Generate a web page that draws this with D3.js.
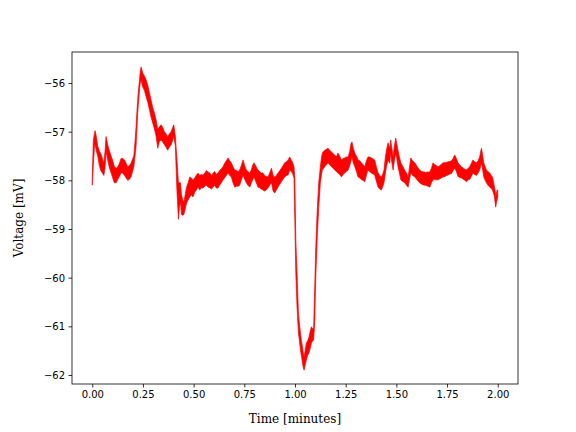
<!DOCTYPE html>
<html>
<head>
<meta charset="utf-8">
<script src="https://cdn.jsdelivr.net/npm/d3@7"></script>
<style>
  html, body { margin: 0; padding: 0; background: #fff; }
  svg { display: block; }
</style>
</head>
<body>
<div id="chart"></div>
<script>
// Sample times (minutes)
const times = [
0.000,0.005,0.010,0.014,0.020,0.027,0.035,0.042,0.050,0.057,0.063,0.068,0.076,0.085,0.093,0.101,0.109,0.118,0.126,0.134,
0.142,0.150,0.159,0.167,0.175,0.183,0.191,0.200,0.205,0.211,0.216,0.220,0.224,0.229,0.233,0.237,0.241,0.249,0.257,0.266,
0.274,0.282,0.290,0.298,0.307,0.315,0.323,0.331,0.340,0.348,0.356,0.364,0.372,0.380,0.389,0.396,0.402,0.410,0.414,0.418,
0.425,0.430,0.435,0.440,0.446,0.452,0.458,0.465,0.473,0.481,0.489,0.497,0.505,0.513,0.522,0.530,0.538,0.546,0.555,0.563,
0.571,0.580,0.588,0.596,0.604,0.612,0.620,0.628,0.637,0.645,0.653,0.661,0.670,0.678,0.686,0.694,0.703,0.711,0.719,0.727,
0.735,0.744,0.752,0.760,0.768,0.777,0.785,0.790,0.798,0.806,0.812,0.818,0.826,0.834,0.842,0.850,0.858,0.867,0.875,0.884,
0.892,0.900,0.908,0.916,0.925,0.933,0.941,0.949,0.958,0.966,0.974,0.981,0.987,0.995,0.999,1.004,1.010,1.017,1.022,1.027,
1.032,1.037,1.041,1.045,1.050,1.056,1.062,1.069,1.075,1.081,1.087,1.092,1.097,1.102,1.109,1.117,1.125,1.130,1.135,1.141,
1.147,1.155,1.163,1.171,1.180,1.188,1.196,1.204,1.212,1.220,1.229,1.237,1.245,1.254,1.262,1.270,1.276,1.281,1.288,1.295,
1.303,1.311,1.320,1.328,1.336,1.344,1.352,1.360,1.368,1.377,1.385,1.393,1.400,1.410,1.418,1.426,1.432,1.439,1.445,1.451,
1.459,1.467,1.472,1.478,1.484,1.490,1.497,1.502,1.508,1.515,1.522,1.530,1.541,1.550,1.558,1.564,1.571,1.580,1.591,1.600,
1.608,1.615,1.625,1.637,1.645,1.655,1.665,1.673,1.681,1.690,1.698,1.706,1.714,1.722,1.730,1.740,1.748,1.755,1.764,1.772,
1.780,1.788,1.796,1.804,1.812,1.821,1.830,1.838,1.846,1.854,1.862,1.870,1.878,1.886,1.895,1.903,1.911,1.916,1.920,1.926,
1.931,1.938,1.944,1.952,1.961,1.968,1.974,1.980,1.984,1.987,1.990,1.994,1.997,2.000
];
// Upper envelope of the noisy trace (mV)
const upper = [
-57.95,-57.20,-57.05,-56.98,-57.10,-57.30,-57.40,-57.45,-57.55,-57.65,-57.40,-57.10,-57.27,-57.40,-57.50,-57.60,-57.72,-57.75,-57.72,-57.65,
-57.55,-57.55,-57.58,-57.65,-57.72,-57.70,-57.65,-57.55,-57.50,-57.20,-56.90,-56.60,-56.35,-56.10,-55.94,-55.75,-55.67,-55.80,-55.85,-55.94,
-56.05,-56.20,-56.35,-56.50,-56.62,-56.76,-56.95,-56.90,-56.86,-56.92,-57.00,-57.05,-57.10,-57.05,-57.00,-56.92,-56.86,-57.10,-57.35,-57.60,
-58.05,-58.05,-58.05,-58.30,-58.40,-58.45,-58.30,-58.14,-58.05,-57.93,-57.95,-58.00,-57.95,-57.90,-57.85,-57.90,-57.88,-57.89,-57.85,-57.80,
-57.83,-57.85,-57.90,-57.85,-57.82,-57.88,-57.85,-57.80,-57.76,-57.72,-57.65,-57.60,-57.54,-57.60,-57.64,-57.72,-57.79,-57.80,-57.82,-57.79,
-57.70,-57.58,-57.70,-57.79,-57.82,-57.85,-57.78,-57.70,-57.64,-57.70,-57.75,-57.79,-57.82,-57.85,-57.85,-57.90,-57.92,-57.93,-57.85,-57.75,
-57.90,-57.93,-57.90,-57.85,-57.80,-57.75,-57.70,-57.64,-57.62,-57.58,-57.52,-57.58,-57.62,-57.72,-57.95,-59.23,-59.90,-60.73,-60.95,-61.14,
-61.30,-61.43,-61.55,-61.63,-61.50,-61.34,-61.30,-61.22,-61.10,-61.01,-61.05,-61.03,-60.25,-59.43,-58.67,-58.05,-57.72,-57.55,-57.44,-57.40,
-57.38,-57.36,-57.34,-57.38,-57.42,-57.45,-57.48,-57.52,-57.44,-57.50,-57.58,-57.55,-57.54,-57.52,-57.52,-57.40,-57.25,-57.21,-57.35,-57.44,
-57.50,-57.58,-57.60,-57.64,-57.68,-57.72,-57.60,-57.52,-57.52,-57.54,-57.56,-57.58,-57.70,-57.85,-57.90,-57.93,-57.88,-57.79,-57.55,-57.38,
-57.23,-57.35,-57.17,-57.35,-57.52,-57.30,-57.13,-57.25,-57.38,-57.52,-57.64,-57.70,-57.79,-57.85,-57.93,-57.75,-57.54,-57.60,-57.64,-57.70,
-57.75,-57.79,-57.82,-57.83,-57.84,-57.83,-57.83,-57.75,-57.64,-57.68,-57.70,-57.72,-57.70,-57.67,-57.64,-57.64,-57.63,-57.62,-57.61,-57.60,
-57.55,-57.48,-57.55,-57.64,-57.68,-57.72,-57.75,-57.77,-57.79,-57.75,-57.72,-57.65,-57.58,-57.62,-57.64,-57.60,-57.52,-57.40,-57.34,-57.50,
-57.64,-57.72,-57.79,-57.82,-57.85,-57.90,-57.93,-58.05,-58.14,-58.20,-58.34,-58.25,-58.20,-58.20
];
// Lower envelope of the noisy trace (mV)
const lower = [
-58.10,-57.70,-57.35,-57.25,-57.40,-57.50,-57.70,-57.80,-57.85,-57.90,-57.75,-57.40,-57.58,-57.75,-57.85,-57.95,-58.05,-58.05,-57.98,-57.92,
-57.85,-57.85,-57.90,-57.95,-58.00,-57.98,-57.93,-57.80,-57.72,-57.50,-57.30,-56.95,-56.62,-56.35,-56.14,-56.00,-55.94,-56.08,-56.15,-56.29,
-56.40,-56.55,-56.70,-56.82,-56.95,-57.10,-57.34,-57.20,-57.17,-57.22,-57.27,-57.32,-57.38,-57.32,-57.27,-57.18,-57.10,-57.30,-57.80,-58.25,
-58.80,-58.55,-58.45,-58.70,-58.72,-58.70,-58.60,-58.47,-58.40,-58.34,-58.30,-58.34,-58.25,-58.20,-58.14,-58.20,-58.15,-58.16,-58.12,-58.10,
-58.14,-58.15,-58.18,-58.14,-58.10,-58.16,-58.16,-58.10,-58.05,-57.99,-57.95,-57.90,-57.85,-57.90,-57.93,-58.05,-58.14,-58.12,-58.12,-58.10,
-58.00,-57.89,-57.98,-58.05,-58.10,-58.14,-58.05,-58.00,-57.93,-58.02,-58.08,-58.14,-58.15,-58.18,-58.20,-58.22,-58.20,-58.16,-58.10,-58.05,
-58.22,-58.26,-58.20,-58.14,-58.08,-58.03,-57.98,-57.93,-57.90,-57.89,-57.79,-57.82,-57.85,-57.95,-58.80,-59.90,-60.60,-61.14,-61.30,-61.49,
-61.62,-61.75,-61.85,-61.90,-61.80,-61.69,-61.60,-61.55,-61.45,-61.34,-61.30,-61.28,-60.93,-60.05,-59.23,-58.55,-58.05,-57.90,-57.79,-57.75,
-57.72,-57.68,-57.64,-57.68,-57.72,-57.75,-57.79,-57.82,-57.85,-57.88,-57.93,-57.88,-57.85,-57.82,-57.79,-57.70,-57.60,-57.52,-57.65,-57.72,
-57.82,-57.93,-57.95,-57.99,-58.00,-58.03,-57.90,-57.79,-57.82,-57.85,-57.87,-57.89,-58.00,-58.14,-58.18,-58.20,-58.14,-58.05,-57.88,-57.72,
-57.58,-57.65,-57.44,-57.65,-57.79,-57.60,-57.44,-57.55,-57.72,-57.85,-57.99,-58.02,-58.05,-58.10,-58.14,-58.00,-57.85,-57.90,-57.93,-57.98,
-58.02,-58.05,-58.08,-58.10,-58.10,-58.12,-58.14,-58.05,-57.99,-57.98,-57.99,-57.99,-57.97,-57.95,-57.93,-57.92,-57.90,-57.89,-57.87,-57.86,
-57.80,-57.75,-57.82,-57.92,-57.94,-57.95,-57.98,-58.00,-58.03,-57.99,-57.98,-57.92,-57.85,-57.88,-57.90,-57.85,-57.79,-57.70,-57.64,-57.80,
-57.93,-58.00,-58.05,-58.10,-58.14,-58.17,-58.20,-58.28,-58.34,-58.45,-58.55,-58.45,-58.40,-58.34
];
const xTicks = [0.00, 0.25, 0.50, 0.75, 1.00, 1.25, 1.50, 1.75, 2.00];
const yTicks = [-56, -57, -58, -59, -60, -61, -62];
const xLabel = "Time [minutes]";
const yLabel = "Voltage [mV]";

const W = 576, H = 432;
const m = { left: 72, top: 52, right: 518, bottom: 384 };

const svg = d3.select("#chart").append("svg")
  .attr("width", W).attr("height", H)
  .attr("viewBox", `0 0 ${W} ${H}`);

const x = d3.scaleLinear().domain([-0.1, 2.1]).range([m.left, m.right]);
const y = d3.scaleLinear().domain([-62.185, -55.363]).range([m.bottom, m.top]);

const data = times.map((t, i) => ({ t, hi: upper[i], lo: lower[i] }));

svg.append("defs").append("clipPath").attr("id", "clip")
  .append("rect").attr("x", m.left).attr("y", m.top)
  .attr("width", m.right - m.left).attr("height", m.bottom - m.top);

const g = svg.append("g").attr("clip-path", "url(#clip)");

const area = d3.area()
  .x(d => x(d.t))
  .y0(d => y(d.lo))
  .y1(d => y(d.hi));

g.append("path")
  .datum(data)
  .attr("d", area)
  .attr("fill", "#ff0000")
  .attr("stroke", "#ff0000")
  .attr("stroke-width", 0.7)
  .attr("stroke-linejoin", "round");

const fmtMinus = s => s.replace("-", "\u2212");

// Axes
const xAxis = d3.axisBottom(x).tickValues(xTicks)
  .tickFormat(d => d3.format(".2f")(d)).tickSize(3.5).tickPadding(3.5);
const yAxis = d3.axisLeft(y).tickValues(yTicks)
  .tickFormat(d => fmtMinus(String(d))).tickSize(3.5).tickPadding(3.5);

const gx = svg.append("g").attr("transform", `translate(0,${m.bottom})`).call(xAxis);
const gy = svg.append("g").attr("transform", `translate(${m.left},0)`).call(yAxis);

[gx, gy].forEach(ax => {
  ax.select(".domain").remove();
  ax.selectAll(".tick line").attr("stroke", "#000").attr("stroke-width", 0.8);
  ax.selectAll(".tick text")
    .attr("fill", "#000")
    .style("font-family", "'DejaVu Sans', sans-serif")
    .style("font-size", "10px");
});
gx.selectAll(".tick text").attr("dy", "0.71em");
gy.selectAll(".tick text").attr("dy", "0.34em");

// Frame
svg.append("rect")
  .attr("x", m.left).attr("y", m.top)
  .attr("width", m.right - m.left).attr("height", m.bottom - m.top)
  .attr("fill", "none").attr("stroke", "#000").attr("stroke-width", 0.8);

// Labels
svg.append("text")
  .attr("x", (m.left + m.right) / 2).attr("y", 423)
  .attr("text-anchor", "middle")
  .style("font-family", "'DejaVu Serif', serif").style("font-size", "12px")
  .attr("fill", "#000")
  .text(xLabel);

svg.append("text")
  .attr("transform", `translate(23,${(m.top + m.bottom) / 2}) rotate(-90)`)
  .attr("text-anchor", "middle")
  .style("font-family", "'DejaVu Serif', serif").style("font-size", "12px")
  .attr("fill", "#000")
  .text(yLabel);
</script>
</body>
</html>
